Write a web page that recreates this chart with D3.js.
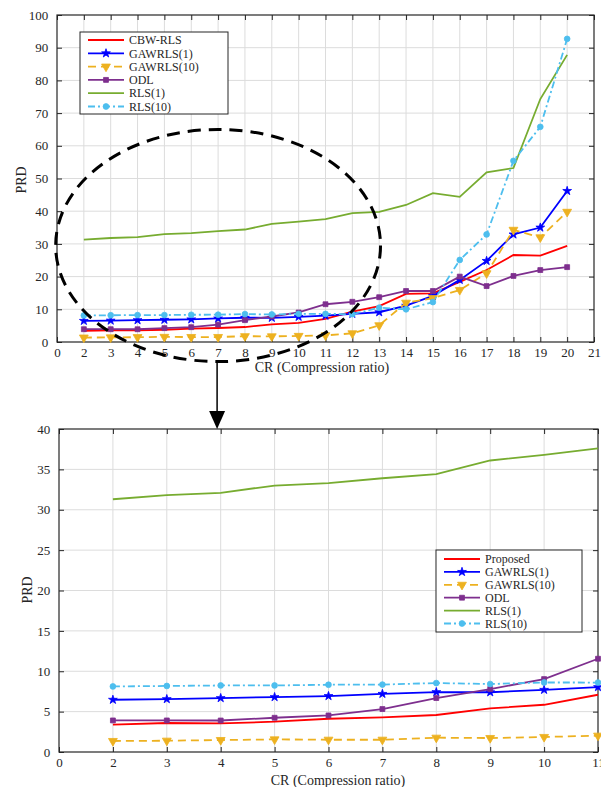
<!DOCTYPE html>
<meta charset="utf-8" />
<script src="https://d3js.org/d3.v7.min.js"></script>
<style>
  body { margin: 0; background: #fff; }
  text { font-family: "Liberation Serif", "Times New Roman", serif; fill: #262626; }
  .grid line { stroke: #dcdcdc; stroke-width: 1; }
</style>
<div id="chart"></div>
<script>
  // x positions (compression ratio) and series values
  const cr = [2, 3, 4, 5, 6, 7, 8, 9, 10, 11, 12, 13, 14, 15, 16, 17, 18, 19, 20];
  const cbwRls = [3.38, 3.59, 3.55, 3.75, 4.12, 4.28, 4.58, 5.4, 5.85, 7.09, 9.3, 11.0, 14.7, 14.9, 18.4, 22.0, 26.6, 26.4, 29.4];
  const gawrls1 = [6.47, 6.55, 6.68, 6.8, 6.93, 7.2, 7.42, 7.4, 7.7, 8.04, 8.6, 9.1, 11.1, 14.1, 19.0, 24.8, 32.9, 35.0, 46.2];
  const gawrls10 = [1.36, 1.4, 1.48, 1.56, 1.52, 1.52, 1.77, 1.73, 1.86, 2.02, 2.65, 5.1, 12.0, 13.4, 15.9, 21.0, 34.3, 32.0, 39.8];
  const odl = [3.91, 3.91, 3.9, 4.24, 4.53, 5.32, 6.68, 7.8, 9.03, 11.55, 12.3, 13.7, 15.6, 15.6, 20.0, 17.1, 20.2, 22.0, 22.9];
  const rls1 = [31.3, 31.8, 32.1, 33.0, 33.3, 33.9, 34.4, 36.1, 36.8, 37.6, 39.4, 39.8, 41.9, 45.5, 44.4, 51.9, 53.2, 74.3, 87.8];
  const rls10 = [8.12, 8.18, 8.24, 8.24, 8.33, 8.35, 8.54, 8.42, 8.61, 8.6, 8.5, 10.5, 10.0, 12.2, 25.1, 32.9, 55.4, 65.8, 92.7];

  const topNames = ["CBW-RLS", "GAWRLS(1)", "GAWRLS(10)", "ODL", "RLS(1)", "RLS(10)"];
  const bottomNames = ["Proposed", "GAWRLS(1)", "GAWRLS(10)", "ODL", "RLS(1)", "RLS(10)"];
  const topYTicks = [0, 10, 20, 30, 40, 50, 60, 70, 80, 90, 100];
  const bottomYTicks = [0, 5, 10, 15, 20, 25, 30, 35, 40];
  // first tick position (1) is labelled "0" in the original figure
  const topXTicks = d3.range(1, 22);
  const bottomXTicks = d3.range(1, 12);

  const styles = [
    { color: "#ff0000", dash: null, marker: null },
    { color: "#0000ff", dash: null, marker: "star" },
    { color: "#EDB120", dash: "8,5", marker: "tri" },
    { color: "#7E2F8E", dash: null, marker: "square" },
    { color: "#77AC30", dash: null, marker: null },
    { color: "#4DBEEE", dash: "7,3,2,3", marker: "circle" },
  ];
  const values = [cbwRls, gawrls1, gawrls10, odl, rls1, rls10];

  const svg = d3.select("#chart").append("svg").attr("width", 601).attr("height", 787);

  function marker(sel, type, color) {
    if (!type) return;
    let sym, size, rot = 0;
    if (type === "star") { sym = d3.symbolStar; size = 24; }
    if (type === "tri") { sym = d3.symbolTriangle; size = 34; rot = 180; }
    if (type === "square") { sym = d3.symbolSquare; size = 24; }
    if (type === "circle") { sym = d3.symbolCircle; size = 26; }
    sel.append("path")
      .attr("d", d3.symbol().type(sym).size(size))
      .attr("fill", color)
      .attr("stroke", color)
      .attr("stroke-width", 0.8)
      .attr("transform", function (d) { return "translate(" + d[0] + "," + d[1] + ") rotate(" + rot + ")"; });
  }

  function panel(p) {
    const x = d3.scaleLinear().domain(p.xDomain).range([p.left, p.right]);
    const y = d3.scaleLinear().domain(p.yDomain).range([p.bottom, p.top]);
    const g = svg.append("g");

    // grid
    const grid = g.append("g").attr("class", "grid");
    grid.selectAll(".gx").data(p.xTicks.slice(1, -1)).enter().append("line")
      .attr("x1", x).attr("x2", x).attr("y1", p.top).attr("y2", p.bottom);
    grid.selectAll(".gy").data(p.yTicks.slice(1, -1)).enter().append("line")
      .attr("y1", y).attr("y2", y).attr("x1", p.left).attr("x2", p.right);

    // axes
    const tl = 5;
    g.append("g").attr("transform", "translate(0," + p.bottom + ")")
      .call(d3.axisBottom(x).tickValues(p.xTicks).tickSizeInner(-tl).tickSizeOuter(0)
        .tickFormat(function (d) { return d === 1 ? "0" : d; }))
      .call(styleAxis).selectAll("text").attr("dy", "0.95em");
    g.append("g").attr("transform", "translate(0," + p.top + ")")
      .call(d3.axisTop(x).tickValues(p.xTicks).tickSizeInner(-tl).tickSizeOuter(0).tickFormat(""))
      .call(styleAxis);
    g.append("g").attr("transform", "translate(" + p.left + ",0)")
      .call(d3.axisLeft(y).tickValues(p.yTicks).tickSizeInner(-tl).tickSizeOuter(0))
      .call(styleAxis).selectAll("text").attr("dx", "-0.45em");
    g.append("g").attr("transform", "translate(" + p.right + ",0)")
      .call(d3.axisRight(y).tickValues(p.yTicks).tickSizeInner(-tl).tickSizeOuter(0).tickFormat(""))
      .call(styleAxis);
    g.append("rect").attr("x", p.left).attr("y", p.top)
      .attr("width", p.right - p.left).attr("height", p.bottom - p.top)
      .attr("fill", "none").attr("stroke", "#262626").attr("stroke-width", 1.2);

    // series
    const line = d3.line().x(function (d) { return x(d[0]); }).y(function (d) { return y(d[1]); });
    values.forEach(function (vals, i) {
      const s = styles[i];
      const pts = cr.map(function (c, j) { return [c, vals[j]]; })
        .filter(function (d) { return d[0] <= p.xDomain[1]; });
      g.append("path").datum(pts).attr("d", line)
        .attr("fill", "none").attr("stroke", s.color).attr("stroke-width", 1.8)
        .attr("stroke-dasharray", s.dash);
      const m = g.append("g").selectAll("g").data(pts.map(function (d) { return [x(d[0]), y(d[1])]; }))
        .enter();
      marker(m, s.marker, s.color);
    });

    // labels
    svg.append("text").attr("x", p.xLabelX).attr("y", p.xLabelY).attr("text-anchor", "middle")
      .attr("font-size", 14).text("CR (Compression ratio)");
    svg.append("text").attr("transform", "translate(" + p.yLabelX + "," + p.yLabelY + ") rotate(-90)")
      .attr("text-anchor", "middle").attr("font-size", 14).text("PRD");

    // legend
    const L = p.legend;
    const lg = svg.append("g");
    lg.append("rect").attr("x", L.x).attr("y", L.y).attr("width", L.w).attr("height", L.h)
      .attr("fill", "#fff").attr("stroke", "#262626").attr("stroke-width", 1);
    p.names.forEach(function (name, i) {
      const s = styles[i];
      const yy = L.y + L.first + i * L.step;
      lg.append("line").attr("x1", L.x + 8).attr("x2", L.x + 44).attr("y1", yy).attr("y2", yy)
        .attr("stroke", s.color).attr("stroke-width", 1.8).attr("stroke-dasharray", s.dash);
      marker(lg.selectAll(null).data([[L.x + 26, yy]]).enter(), s.marker, s.color);
      lg.append("text").attr("x", L.x + 49).attr("y", yy).attr("dy", "0.35em")
        .attr("font-size", 12).text(name);
    });
    return { x: x, y: y };
  }

  function styleAxis(a) {
    a.select(".domain").remove();
    a.selectAll("line").attr("stroke", "#262626");
    a.selectAll("text").attr("font-size", 13).attr("font-family", "Liberation Serif, serif").attr("fill", "#262626");
  }

  const topP = panel({
    xDomain: [1, 21], yDomain: [0, 100], left: 57, right: 594, top: 15, bottom: 342,
    xTicks: topXTicks, yTicks: topYTicks, names: topNames,
    xLabelX: 322, xLabelY: 372, yLabelX: 26, yLabelY: 180,
    legend: { x: 80, y: 32, w: 148, h: 82, first: 8, step: 13.3 }
  });

  panel({
    xDomain: [1, 11], yDomain: [0, 40], left: 59, right: 598, top: 429, bottom: 752,
    xTicks: bottomXTicks, yTicks: bottomYTicks, names: bottomNames,
    xLabelX: 338, xLabelY: 785, yLabelX: 32, yLabelY: 590,
    legend: { x: 436, y: 550, w: 146, h: 82, first: 9, step: 12.9 }
  });

  // dashed zoom ellipse around the low-CR region of the top chart, plus arrow
  const ex = topP.x, ey = topP.y;
  const cx = ex(7.0), cy = ey(29.5);
  svg.append("ellipse").attr("cx", cx).attr("cy", cy)
    .attr("rx", ex(7.0 + 6.05) - cx).attr("ry", cy - ey(29.5 + 35.5))
    .attr("fill", "none").attr("stroke", "#000").attr("stroke-width", 3)
    .attr("stroke-dasharray", "13,8");
  const ax = cx - 1;
  svg.append("line").attr("x1", ax).attr("x2", ax).attr("y1", cy + 116).attr("y2", 413)
    .attr("stroke", "#000").attr("stroke-width", 1.5);
  svg.append("path").attr("d", "M" + (ax - 8) + ",411 L" + (ax + 8) + ",411 L" + ax + ",429 Z")
    .attr("fill", "#000");
</script>
